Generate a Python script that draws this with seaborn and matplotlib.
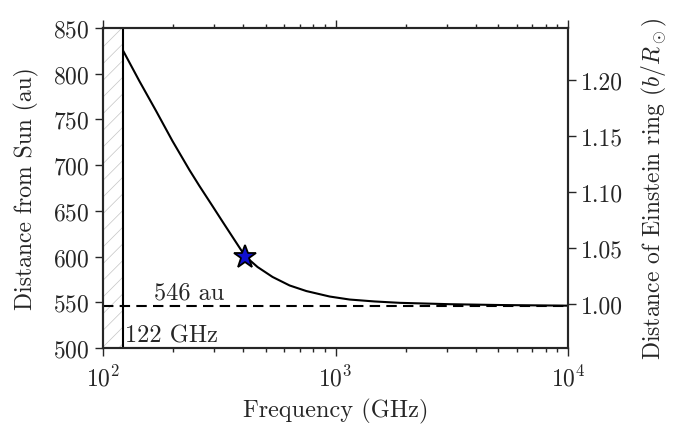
import matplotlib
matplotlib.use("Agg")
import matplotlib.pyplot as plt
import seaborn as sns
import pandas as pd

# values
freq_ghz = [122, 143.3, 169.2, 198.9, 235.3, 259.8, 295.6, 327.4, 367.8,
            408, 461.8, 535.9, 634.4, 748.5, 943.3, 1150, 1473, 1888,
            3100, 5090, 10000]
dist_au = [825.2, 792, 759.2, 726.4, 694.7, 677.2, 655.3, 637.8, 618.1,
           600.6, 588.6, 577.7, 568.4, 562.3, 556.3, 553, 550.9, 549.4,
           547.9, 547, 546.3]
star_freq = [408]
star_dist = [600]
cutoff_ghz = 122
focal_au = 546
left_ticks = [500, 550, 600, 650, 700, 750, 800, 850]
right_ticks = [1.00, 1.05, 1.10, 1.15, 1.20]

sns.set_style("ticks")
plt.rcParams['font.family'] = ['cmr10', 'DejaVu Serif']
plt.rcParams['mathtext.fontset'] = 'cm'
plt.rcParams['axes.formatter.use_mathtext'] = True
plt.rcParams['axes.unicode_minus'] = False
plt.rcParams['hatch.linewidth'] = 0.5

df = pd.DataFrame({'freq': freq_ghz, 'dist': dist_au})

fig = plt.figure(figsize=(6.79, 4.39), dpi=100)
ax = fig.add_axes([0.1517, 0.205, 0.685, 0.729])

# forbidden band below cutoff
ax.axvspan(100, cutoff_ghz, facecolor='none', edgecolor='#c4c4c4',
           hatch='//', linewidth=0)
ax.axvline(cutoff_ghz, color='black', lw=1.5)
ax.axhline(focal_au, color='black', lw=1.5, dashes=(5, 3))

sns.lineplot(data=df, x='freq', y='dist', ax=ax, color='black', lw=1.5)
ax.plot(star_freq, star_dist, marker='*', ms=17, mfc='#1010d0',
        mec='black', mew=1.3, ls='none', zorder=5)

ax.text(165, 549, '546 au', fontsize=17.5, va='bottom', ha='left')
ax.text(124.5, 502, '122 GHz', fontsize=17.5, va='bottom', ha='left')

ax.set_xscale('log')
ax.set_xlim(100, 1e4)
ax.set_ylim(500, 850)
ax.set_yticks(left_ticks)
ax.set_xlabel('Frequency (GHz)', fontsize=17.5, labelpad=6)
ax.set_ylabel('Distance from Sun (au)', fontsize=17, labelpad=10)
ax.tick_params(which='both', direction='out', top=True, right=False,
               labelsize=17, width=1)
ax.tick_params(which='major', length=6)
ax.tick_params(which='minor', length=3)
ax.tick_params(axis='x', which='major', pad=6)
for s in ax.spines.values():
    s.set_linewidth(1.5)
    s.set_visible(True)

ax2 = ax.twinx()
ax2.set_ylim(0.961, 1.2464)
ax2.set_yticks(right_ticks)
ax2.set_yticklabels([f"{t:.2f}" for t in right_ticks])
ax2.set_ylabel(r'Distance of Einstein ring $(b/R_\odot)$', fontsize=17,
               labelpad=12)
ax2.tick_params(axis='y', direction='out', length=6, width=1, labelsize=17)
for s in ax2.spines.values():
    s.set_linewidth(1.5)

fig.savefig('out.png', dpi=100)
